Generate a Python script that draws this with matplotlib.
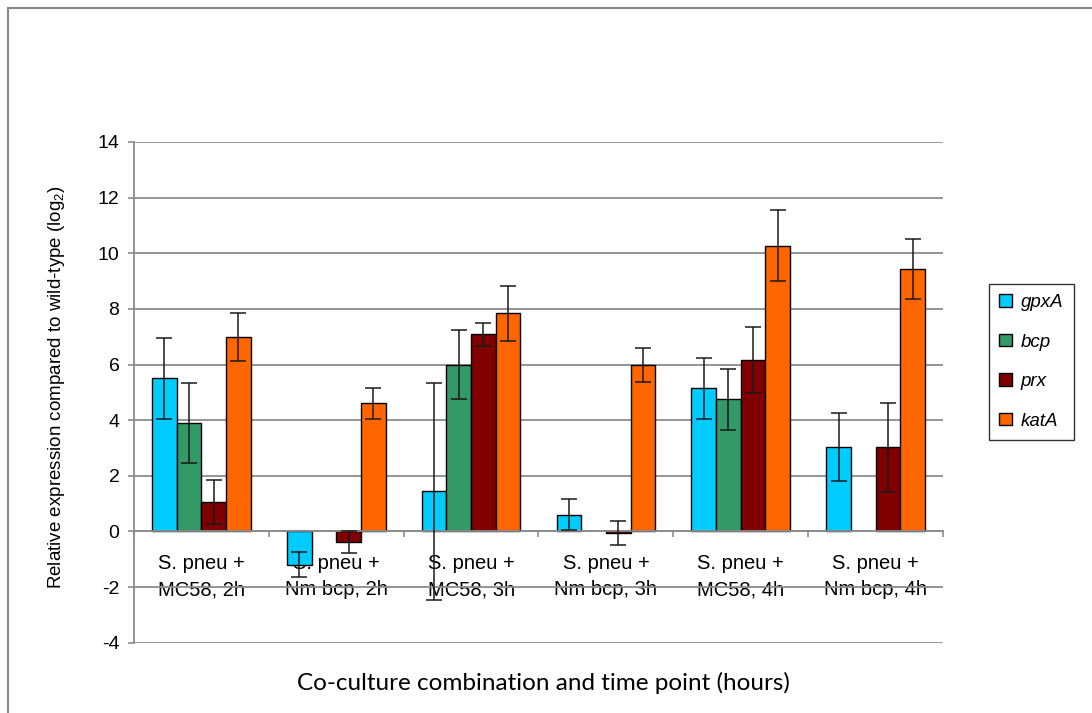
import numpy as np
import matplotlib
matplotlib.use("Agg")
import matplotlib.pyplot as plt
from matplotlib.patches import Patch, Rectangle

plt.rcParams["font.family"] = ["Liberation Sans", "DejaVu Sans"]
plt.rcParams["mathtext.fontset"] = "custom"
plt.rcParams["mathtext.rm"] = "Liberation Sans"
plt.rcParams["axes.unicode_minus"] = False

# Co-culture combinations (x categories)
categories = [
    "S. pneu +\nMC58, 2h",
    "S. pneu +\nNm bcp, 2h",
    "S. pneu +\nMC58, 3h",
    "S. pneu +\nNm bcp, 3h",
    "S. pneu +\nMC58, 4h",
    "S. pneu +\nNm bcp, 4h",
]
genes = ["gpxA", "bcp", "prx", "katA"]

# Relative expression (log2) and error per gene
gpxA = [5.5, -1.2, 1.45, 0.6, 5.15, 3.05]
gpxA_err = [1.47, 0.45, 3.9, 0.55, 1.1, 1.22]
bcp = [3.9, np.nan, 6.0, np.nan, 4.75, np.nan]
bcp_err = [1.43, np.nan, 1.24, np.nan, 1.1, np.nan]
prx = [1.05, -0.38, 7.08, -0.05, 6.15, 3.02]
prx_err = [0.8, 0.38, 0.43, 0.42, 1.19, 1.6]
katA = [7.0, 4.6, 7.85, 6.0, 10.27, 9.45]
katA_err = [0.87, 0.56, 0.99, 0.61, 1.28, 1.08]

values = [gpxA, bcp, prx, katA]
errors = [gpxA_err, bcp_err, prx_err, katA_err]
colors = ["#00CCFF", "#339966", "#800000", "#FF6600"]

W, H = 1092, 713
fig = plt.figure(figsize=(W / 100, H / 100), dpi=100)
ax = fig.add_axes([134 / W, 1 - 642.7 / H, (943 - 134) / W, (642.7 - 142) / H])

grid_c = "#8c8c8c"
x = np.arange(len(categories))
bw = 0.183
for j, (vals, errs, col) in enumerate(zip(values, errors, colors)):
    xs = x + (j - 1.5) * bw
    v = np.array(vals, dtype=float)
    e = np.array(errs, dtype=float)
    ax.bar(xs, v, width=bw, color=col, edgecolor="black", linewidth=1.0, zorder=3)
    ax.errorbar(xs, v, yerr=e, fmt="none", ecolor="#1a1a1a", elinewidth=1.1,
                capsize=5.5, capthick=1.1, zorder=5, clip_on=False)

ax.set_xlim(-0.5, len(categories) - 0.5)
ax.set_ylim(-4, 14)
ax.set_yticks(np.arange(-4, 15, 2))
ax.yaxis.grid(True, color=grid_c, linewidth=1.3, zorder=0)
ax.set_axisbelow(True)

for s in ["top", "right"]:
    ax.spines[s].set_visible(False)
ax.spines["left"].set_color(grid_c)
ax.spines["left"].set_linewidth(1.3)
ax.spines["bottom"].set_position(("data", 0))
ax.spines["bottom"].set_color(grid_c)
ax.spines["bottom"].set_linewidth(1.3)
ax.spines["bottom"].set_zorder(4)

ax.tick_params(axis="y", colors=grid_c, labelcolor="black", length=4.5,
               width=1.2, labelsize=14, pad=6)
ax.set_xticks(x)
ax.set_xticklabels(categories, fontsize=14.5, linespacing=1.5)
ax.set_xticks(np.arange(-0.5, len(categories), 1.0), minor=True)
ax.tick_params(axis="x", which="major", length=0, pad=16)
ax.tick_params(axis="x", which="minor", length=4, width=1.2, colors=grid_c)

ax.set_ylabel("Relative expression compared to wild-type (log$_2$)", fontsize=13.5)
ax.yaxis.set_label_coords(-0.083, 0.51)

fig.text(543 / W, 1 - 683 / H, "Co-culture combination and time point (hours)",
         family=["Lato", "DejaVu Sans"], fontsize=17.5, ha="center", va="center")

handles = [Patch(facecolor=c, edgecolor="black", linewidth=1.0) for c in colors]
leg = fig.legend(handles, genes, loc="upper left",
                 bbox_to_anchor=(989 / W, 1 - 284 / H),
                 prop={"style": "italic", "size": 13.5},
                 handlelength=0.65, handleheight=0.65, handletextpad=0.5,
                 labelspacing=1.2, borderpad=0.55, fancybox=False,
                 frameon=True, borderaxespad=0)
leg.get_frame().set_edgecolor("black")
leg.get_frame().set_linewidth(1.0)

# Outer chart-area border
fig.patches.append(Rectangle((8 / W, -0.1), 1.2, 1.1 - 8 / H, transform=fig.transFigure,
                             fill=False, edgecolor="#888888", linewidth=1.5))

fig.savefig("out.png", dpi=100)
